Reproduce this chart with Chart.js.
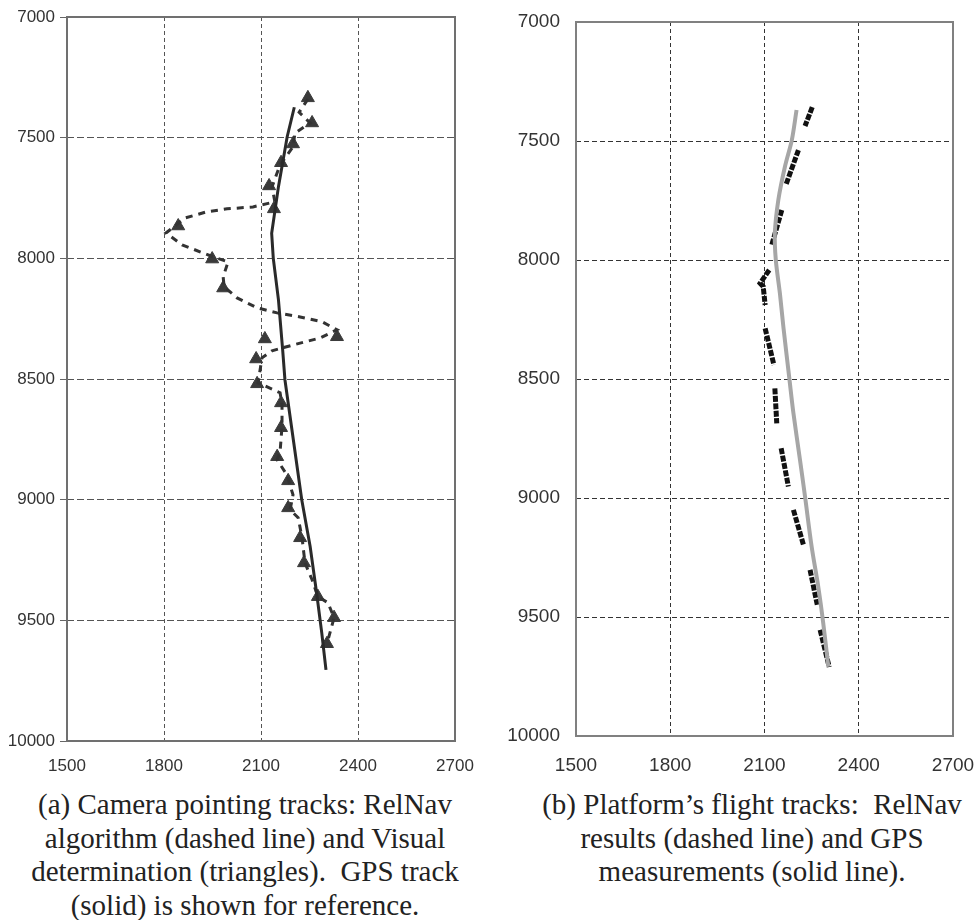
<!DOCTYPE html>
<html>
<head>
<meta charset="utf-8">
<script src="https://cdn.jsdelivr.net/npm/chart.js@4.4.0/dist/chart.umd.min.js"></script>
<style>
  html, body { margin: 0; padding: 0; background: #fff; }
  body { width: 976px; height: 920px; position: relative; overflow: hidden; }
  .panel { position: absolute; top: 0; }
  #wrapA { left: 0; width: 480px; height: 785px; }
  #wrapB { left: 480px; width: 496px; height: 785px; }
  .caption {
    position: absolute;
    font-family: 'Liberation Serif', 'Times New Roman', serif;
    font-size: 29px;
    line-height: 33.5px;
    text-align: center;
    color: #222;
    white-space: nowrap;
  }
  #capA { left: 0; width: 490px; top: 788px; }
  #capB { left: 480px; width: 544px; top: 788px; }
</style>
</head>
<body>
<div class="panel" id="wrapA"><canvas id="chartA" width="480" height="785"></canvas></div>
<div class="panel" id="wrapB"><canvas id="chartB" width="496" height="785"></canvas></div>
<div class="caption" id="capA">(a) Camera pointing tracks: RelNav<br>algorithm (dashed line) and Visual<br>determination (triangles).&nbsp; GPS track<br>(solid) is shown for reference.</div>
<div class="caption" id="capB">(b) Platform’s flight tracks:&nbsp; RelNav<br>results (dashed line) and GPS<br>measurements (solid line).</div>
<script>
// ejes
const xTicks = [1500, 1800, 2100, 2400, 2700];
const yTicks = [7000, 7500, 8000, 8500, 9000, 9500, 10000];

// (a) GPS (solida)
const gpsA_x = [2203, 2181, 2154, 2133, 2138, 2154, 2167, 2174, 2226, 2252, 2272, 2288, 2301];
const gpsA_y = [7374, 7496, 7703, 7896, 8000, 8172, 8379, 8503, 9000, 9194, 9387, 9553, 9705];

// (a) RelNav (discontinua)
const relA_x = [2245, 2218, 2252, 2205, 2199, 2159, 2134, 2143, 2075, 1995, 1933, 1865, 1806, 1856, 1952,
                1998, 1983, 1986, 2026, 2088, 2150, 2221, 2289, 2335, 2283, 2199, 2134, 2103, 2091, 2159,
                2165, 2165, 2159, 2150, 2180, 2199, 2190, 2215, 2227, 2236, 2258, 2276, 2307, 2326, 2304];
const relA_y = [7340, 7395, 7439, 7481, 7538, 7613, 7704, 7766, 7787, 7795, 7807, 7833, 7895, 7944, 7994,
                8015, 8077, 8118, 8164, 8205, 8226, 8243, 8263, 8296, 8330, 8359, 8383, 8412, 8516, 8557,
                8607, 8697, 8802, 8835, 8897, 8980, 9042, 9075, 9158, 9262, 9332, 9402, 9427, 9489, 9597];

// (a) Visual (triangulos)
const visA_x = [2245, 2258, 2199, 2162, 2125, 2140, 1844, 1949, 1983, 2335, 2112, 2085, 2088, 2162, 2162,
                2150, 2184, 2184, 2221, 2233, 2276, 2326, 2304];
const visA_y = [7335, 7439, 7526, 7604, 7700, 7795, 7866, 8003, 8123, 8325, 8334, 8417, 8520, 8599, 8702,
                8822, 8922, 9034, 9158, 9262, 9402, 9489, 9597];

// (b) GPS (gris)
const gpsB_x = [2202, 2187, 2165, 2144, 2133, 2136, 2149, 2160, 2179, 2192, 2213, 2229, 2250, 2271, 2287, 2303];
const gpsB_y = [7370, 7496, 7608, 7748, 7888, 8000, 8140, 8280, 8497, 8643, 8840, 8994, 9204, 9372, 9526, 9708];

// (b) RelNav, tramos separados por null
const relB_x = [2252, 2229, null, 2208, 2168, null, 2155, 2123, null, 2115, 2086, 2096, 2102, null,
                2102, 2130, null, 2133, 2139, null, 2153, 2176, null, 2192, 2224, null, 2245, 2268, null, 2277, 2306];
const relB_y = [7358, 7437, null, 7538, 7685, null, 7790, 7937, null, 8042, 8098, 8112, 8189, null,
                8287, 8441, null, 8539, 8686, null, 8791, 8952, null, 9050, 9197, null, 9302, 9449, null, 9554, 9710];

const toPts = (xs, ys) => xs.map((x, i) => ({ x: x, y: ys[i] }));

// marco completo alrededor del area
const framePlugin = {
    id: 'frame',
    beforeDatasetsDraw(chart, args, opts) {
        const a = chart.chartArea, ctx = chart.ctx;
        ctx.save();
        ctx.strokeStyle = opts.color;
        ctx.lineWidth = opts.width;
        ctx.strokeRect(a.left, a.top, a.right - a.left, a.bottom - a.top);
        ctx.restore();
    }
};

function makeScales(cfg) {
    const edge = (min, max) => c => (c.tick && (c.tick.value === min || c.tick.value === max)) ? 'transparent' : cfg.gridColor;
    return {
        x: {
            type: 'linear', min: 1500, max: 2700,
            afterBuildTicks: s => { s.ticks = xTicks.map(v => ({ value: v })); },
            // tamaño fijo, sin relleno extra por las etiquetas
            afterFit: s => { s.height = cfg.xHeight; s.paddingLeft = 0; s.paddingRight = 0; },
            grid: { color: edge(1500, 2700), lineWidth: 1, drawTicks: false },
            border: { display: false, dash: cfg.xDash },
            ticks: { padding: cfg.xPad, color: cfg.tickColor, font: cfg.font, maxRotation: 0, callback: v => String(v) }
        },
        y: {
            type: 'linear', min: 7000, max: 10000, reverse: true,
            afterBuildTicks: s => { s.ticks = yTicks.map(v => ({ value: v })); },
            afterFit: s => { s.width = cfg.yWidth; s.paddingTop = 0; s.paddingBottom = 0; },
            grid: { color: edge(7000, 10000), lineWidth: 1, drawTicks: cfg.yTicksOut, tickLength: 7, tickColor: '#666' },
            border: { display: false, dash: cfg.yDash },
            ticks: { padding: cfg.yPad, color: cfg.tickColor, font: cfg.font, callback: v => String(v) }
        }
    };
}

const common = {
    responsive: false,
    animation: false,
    events: [],
    plugins: { legend: { display: false }, tooltip: { enabled: false } }
};

new Chart(document.getElementById('chartA'), {
    type: 'scatter',
    data: {
        datasets: [
            { data: toPts(gpsA_x, gpsA_y), showLine: true, borderColor: '#2a2a2a', borderWidth: 3, pointRadius: 0, tension: 0 },
            { data: toPts(relA_x, relA_y), showLine: true, borderColor: '#333', borderWidth: 3, borderDash: [7, 6], pointRadius: 0, tension: 0 },
            { data: toPts(visA_x, visA_y), showLine: false, pointStyle: 'triangle', pointRadius: 7.5,
              backgroundColor: '#3a3a3a', borderColor: '#3a3a3a', borderWidth: 1 }
        ]
    },
    options: Object.assign({}, common, {
        layout: { padding: { left: 0, right: 25, top: 17, bottom: 0 } },
        plugins: Object.assign({}, common.plugins, { frame: { color: '#707070', width: 2 } }),
        scales: makeScales({
            gridColor: '#555', xDash: [4, 3], yDash: [7, 3], tickColor: '#333',
            font: { family: "'Liberation Sans', Arial, sans-serif", size: 17 },
            xHeight: 44, xPad: 15, yWidth: 67, yPad: 5, yTicksOut: true
        })
    }),
    plugins: [framePlugin]
});

new Chart(document.getElementById('chartB'), {
    type: 'scatter',
    data: {
        datasets: [
            { data: toPts(gpsB_x, gpsB_y), showLine: true, borderColor: '#a6a6a6', borderWidth: 4, pointRadius: 0, tension: 0.3 },
            { data: toPts(relB_x, relB_y), showLine: true, borderColor: '#111', borderWidth: 5, borderDash: [6, 1.5],
              borderCapStyle: 'butt', pointRadius: 0, tension: 0 }
        ]
    },
    options: Object.assign({}, common, {
        layout: { padding: { left: 0, right: 23, top: 22, bottom: 0 } },
        plugins: Object.assign({}, common.plugins, { frame: { color: '#808080', width: 2 } }),
        scales: makeScales({
            gridColor: '#333', xDash: [4, 3], yDash: [5, 3], tickColor: '#333',
            font: { family: "'Liberation Sans', Arial, sans-serif", size: 19 },
            xHeight: 49, xPad: 18, yWidth: 96, yPad: 16, yTicksOut: false
        })
    }),
    plugins: [framePlugin]
});
</script>
</body>
</html>
